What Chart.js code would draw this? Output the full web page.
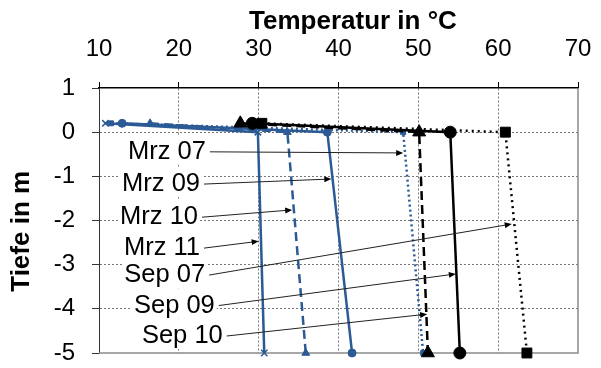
<!DOCTYPE html>
<html>
<head>
<meta charset="utf-8">
<script src="https://cdn.jsdelivr.net/npm/chart.js@4.4.0/dist/chart.umd.min.js"></script>
<style>
  html, body { margin: 0; padding: 0; background: #fff; }
</style>
</head>
<body>
<canvas id="chart" width="601" height="368"></canvas>
<script>
// depth of each measuring point (m), same for every series
const depths = [0.2, 0, -5];

// temperature (°C) at those depths
const mrz07 = [11.5, 48.1, 50.6];
const mrz09 = [12.9, 38.6, 41.7];
const mrz10 = [16.4, 33.6, 35.9];
const mrz11 = [10.8, 29.9, 30.7];
const sep07 = [30.4, 60.9, 63.6];
const sep09 = [29.2, 54.0, 55.2];
const sep10 = [27.7, 50.1, 51.2];

const seriesNames = ['Mrz 07', 'Mrz 09', 'Mrz 10', 'Mrz 11', 'Sep 07', 'Sep 09', 'Sep 10'];
const xTicks = [10, 20, 30, 40, 50, 60, 70];
const yTicks = [1, 0, -1, -2, -3, -4, -5];

// callout labels: right edge of text (temp) / middle of text (depth), and arrow tips
const labelTemp = [23.4, 22.65, 22.4, 22.65, 23.3, 24.5, 25.5];
const labelDepth = [-0.40, -1.13, -1.88, -2.58, -3.19, -3.88, -4.57];
const arrowTemp = [48.1, 39.1, 34.2, 30.0, 61.7, 54.7, 51.1];
const arrowDepth = [-0.47, -1.06, -1.76, -2.47, -2.08, -3.21, -4.12];

const FONT = "'Liberation Sans', Arial, sans-serif";
const BLUE = '#2B5A95';

function pts(temps) {
  return temps.map((t, i) => ({ x: t, y: depths[i] }));
}

function series(label, temps, color, style, radius, dash) {
  return {
    label: label,
    data: pts(temps),
    showLine: true,
    clip: false,
    borderColor: color,
    backgroundColor: color,
    borderWidth: 2.5,
    borderDash: dash,
    borderCapStyle: 'butt',
    pointStyle: style,
    pointRadius: radius,
    pointBorderWidth: 1,
    pointBorderColor: color,
    pointBackgroundColor: color
  };
}

// Sep series first so they sit on top of the blue ones
const datasets = [
  series(seriesNames[4], sep07, '#000', 'rect', 7, [2, 4]),
  series(seriesNames[5], sep09, '#000', 'circle', 6, []),
  series(seriesNames[6], sep10, '#000', 'triangle', 7.5, [9, 5]),
  series(seriesNames[0], mrz07, BLUE, 'rect', 3.5, [2, 3]),
  series(seriesNames[1], mrz09, BLUE, 'circle', 4, []),
  series(seriesNames[2], mrz10, BLUE, 'triangle', 4.5, [9, 5]),
  series(seriesNames[3], mrz11, BLUE, 'crossRot', 4.5, [])
];
datasets[6].pointBorderWidth = 1.5;

// right and bottom frame lines of the plot area
const framePlugin = {
  id: 'frame',
  beforeDatasetsDraw(chart) {
    const { ctx, chartArea: a } = chart;
    ctx.save();
    ctx.strokeStyle = '#8a8a8a';
    ctx.lineWidth = 1.5;
    ctx.beginPath();
    ctx.moveTo(a.right, a.top);
    ctx.lineTo(a.right, a.bottom);
    ctx.lineTo(a.left, a.bottom);
    ctx.stroke();
    ctx.restore();
  }
};

// series name callouts with arrows
const calloutPlugin = {
  id: 'callouts',
  afterDatasetsDraw(chart) {
    const { ctx } = chart;
    const xs = chart.scales.x, ys = chart.scales.y;
    const fs = 25.5;
    ctx.save();
    ctx.font = fs + 'px ' + FONT;
    ctx.textAlign = 'right';
    ctx.textBaseline = 'alphabetic';
    seriesNames.forEach((name, i) => {
      const lx = xs.getPixelForValue(labelTemp[i]);
      const ly = ys.getPixelForValue(labelDepth[i]);
      const w = ctx.measureText(name).width;
      ctx.fillStyle = '#fff';
      ctx.fillRect(lx - w - 2, ly - 15, w + 4, 30);
      ctx.fillStyle = '#000';
      ctx.fillText(name, lx, ly + 0.36 * fs);

      const x0 = lx + 4, y0 = ly + 2;
      const x1 = xs.getPixelForValue(arrowTemp[i]);
      const y1 = ys.getPixelForValue(arrowDepth[i]);
      const ang = Math.atan2(y1 - y0, x1 - x0);
      ctx.strokeStyle = '#222';
      ctx.lineWidth = 1;
      ctx.beginPath();
      ctx.moveTo(x0, y0);
      ctx.lineTo(x1 - 6 * Math.cos(ang), y1 - 6 * Math.sin(ang));
      ctx.stroke();
      ctx.fillStyle = '#000';
      ctx.beginPath();
      ctx.moveTo(x1, y1);
      ctx.lineTo(x1 - 7 * Math.cos(ang) + 3 * Math.sin(ang), y1 - 7 * Math.sin(ang) - 3 * Math.cos(ang));
      ctx.lineTo(x1 - 7 * Math.cos(ang) - 3 * Math.sin(ang), y1 - 7 * Math.sin(ang) + 3 * Math.cos(ang));
      ctx.closePath();
      ctx.fill();
    });
    ctx.restore();
  }
};

Chart.defaults.font.family = FONT;
Chart.defaults.color = '#000';

new Chart(document.getElementById('chart'), {
  type: 'scatter',
  data: { datasets: datasets },
  options: {
    responsive: false,
    animation: false,
    layout: { padding: { left: 0, top: 0, right: 23, bottom: 15 } },
    plugins: {
      legend: { display: false },
      tooltip: { enabled: false }
    },
    scales: {
      x: {
        type: 'linear',
        position: 'top',
        min: 10,
        max: 70,
        afterBuildTicks: s => { s.ticks = xTicks.map(v => ({ value: v })); },
        afterFit: s => { s.height = 88; s.paddingLeft = 0; s.paddingRight = 0; },
        ticks: { font: { size: 24 }, padding: 18, maxRotation: 0 },
        title: {
          display: true,
          text: '    Temperatur in °C',
          font: { size: 26, weight: 'bold' },
          padding: { top: 6, bottom: 0 }
        },
        grid: {
          color: c => (c.tick && (c.tick.value === 10 || c.tick.value === 70)) ? 'rgba(0,0,0,0)' : '#777',
          lineWidth: 1,
          tickColor: '#000',
          tickLength: 6
        },
        border: { color: '#000', width: 1.5, dash: [2, 2] }
      },
      y: {
        type: 'linear',
        min: -5,
        max: 1,
        afterBuildTicks: s => { s.ticks = yTicks.map(v => ({ value: v })); },
        afterFit: s => { s.width = 99; s.paddingTop = 0; s.paddingBottom = 0; },
        ticks: { font: { size: 24 }, padding: 17 },
        title: {
          display: true,
          text: 'Tiefe in m   ',
          font: { size: 26, weight: 'bold' },
          padding: { top: 6, bottom: 0 }
        },
        grid: {
          color: c => (c.tick && (c.tick.value === 1 || c.tick.value === -5)) ? 'rgba(0,0,0,0)' : '#777',
          lineWidth: 1,
          tickColor: '#333',
          tickLength: 7
        },
        border: { color: '#333', width: 1, dash: [2, 2] }
      }
    }
  },
  plugins: [framePlugin, calloutPlugin]
});
</script>
</body>
</html>
